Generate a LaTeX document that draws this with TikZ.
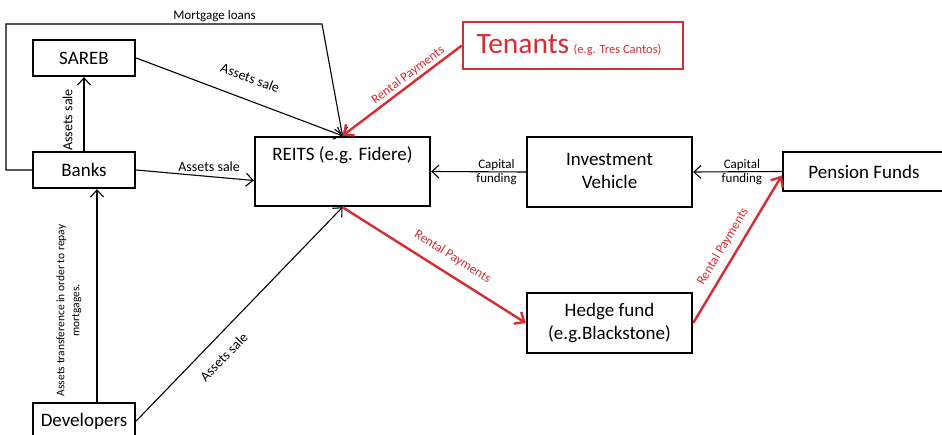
\documentclass[tikz,border=0pt]{standalone}
\usepackage{fontspec}
\setmainfont{Carlito}
\usetikzlibrary{arrows.meta}
\definecolor{rp}{RGB}{214,45,50}
\begin{document}
\begin{tikzpicture}[x=1pt,y=-1pt,
  box/.style={draw=black,line width=2.4pt,rectangle,inner sep=0pt,align=center,font=\fontsize{19}{23}\selectfont},
  conn/.style={draw=black,line width=1.1pt,-{Straight Barb[length=7pt,width=13pt,line width=1.1pt]}},
  rconn/.style={draw=rp,line width=2.4pt,-{Straight Barb[length=8pt,width=14pt,line width=2.4pt]}},
  lab/.style={font=\fontsize{13}{14}\selectfont,inner sep=1pt,align=center},
  alab/.style={font=\fontsize{14}{15}\selectfont,inner sep=1pt},
  rlab/.style={font=\fontsize{13}{14}\selectfont,text=rp,inner sep=1pt}]
\useasboundingbox (0,0) rectangle (942,435);
\fill[white] (0,0) rectangle (942,435);
% nodes
\node[box,minimum width=102pt,minimum height=36pt] (sareb) at (84,58) {SAREB};
\node[box,minimum width=102pt,minimum height=36pt] (banks) at (84,170) {Banks};
\node[box,minimum width=102pt,minimum height=36pt] (dev) at (84,421) {Developers};
\node[box,minimum width=175pt,minimum height=69pt,
  label={[anchor=center,yshift=-19pt,font=\fontsize{19}{23}\selectfont]north:REITS (e.g. Fidere)}] (reits) at (342.5,171.5) {};
\node[box,draw=rp,text=rp,minimum width=220pt,minimum height=47pt] (ten) at (573,45.5)
  {\hspace*{-8pt}{\fontsize{29.5}{31}\selectfont Tenants} {\fontsize{12.5}{14}\selectfont (e.g. Tres Cantos)}};
\node[box,minimum width=165pt,minimum height=70pt] (iv) at (609.5,172) {\raisebox{3pt}{Investment}\\\raisebox{3pt}{Vehicle}};
\node[box,minimum width=162pt,minimum height=39pt] (pf) at (864,171.5) {Pension Funds};
\node[box,minimum width=165pt,minimum height=60pt] (hf) at (609.5,323) {Hedge fund\\(e.g.Blackstone)};
% mortgage loans path
\coordinate (m1) at (6,170);
\coordinate (m2) at (6,24);
\coordinate (m3) at (322,24);
\draw[conn] (banks.west) -- (m1) -- (m2) -- node[lab,pos=0.66,above=1pt]{Mortgage loans} (m3) -- (reits.north);
% black connectors
\draw[conn] (sareb.east) -- node[alab,sloped,pos=0.516,above=15pt]{Assets sale} (reits.north);
\draw[conn] (banks.north) -- node[alab,sloped,pos=0.42,above=10pt]{Assets sale} (sareb.south);
\draw[conn] (banks.east) -- node[alab,pos=0.62,above=3pt]{Assets sale} ([yshift=-9pt]reits.west);
\draw[conn] ([xshift=13pt]dev.north) -- node[sloped,pos=0.43,above=14pt,font=\fontsize{11.5}{15}\selectfont,align=center,inner sep=1pt]{Assets transference in order to repay\\mortgages.} ([xshift=13pt]banks.south);
\draw[conn] (dev.east) -- node[alab,sloped,pos=0.36,below=12pt]{Assets sale} (reits.south);
\draw[conn] (iv.west) -- node[lab,pos=0.31]{Capital\\funding} (reits.east);
\draw[conn] (pf.west) -- node[lab,pos=0.45]{Capital\\funding} (iv.east);
% red connectors
\draw[rconn] (ten.west) -- node[rlab,sloped,pos=0.405,above=1pt]{Rental Payments} (reits.north);
\draw[rconn] (reits.south) -- node[rlab,sloped,pos=0.552,above=9pt]{Rental Payments} (hf.west);
\draw[rconn] (hf.east) -- node[rlab,sloped,pos=0.47,above=6pt]{Rental Payments} ([yshift=-4pt]pf.west);
\end{tikzpicture}
\end{document}
